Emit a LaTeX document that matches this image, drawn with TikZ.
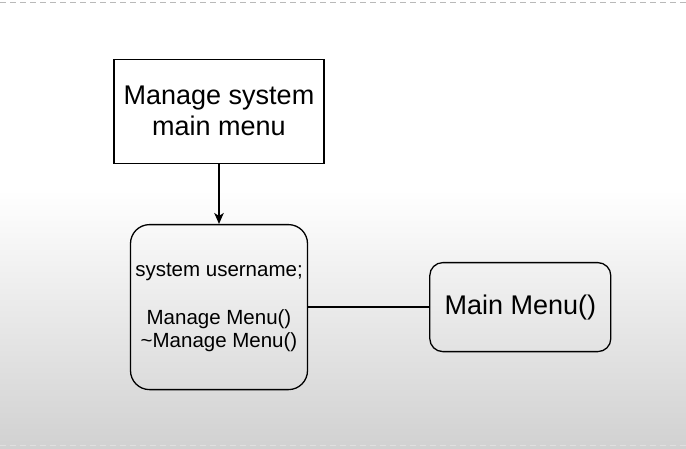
\documentclass[tikz,border=0pt]{standalone}
\usepackage{fontspec}
\setmainfont{Liberation Sans}
\usetikzlibrary{positioning,arrows.meta}

\begin{document}
\begin{tikzpicture}[x=1pt, y=-1pt, ->, >={Stealth[length=11pt, width=9.5pt, inset=3pt]}, line width=1.3pt,
    bigtext/.style={font=\fontsize{27}{31}\selectfont, align=center},
    smalltext/.style={font=\fontsize{20.5}{22.5}\selectfont, align=center},
    plainbox/.style={draw, inner sep=0pt, bigtext},
    classbox/.style={draw, inner sep=0pt, rounded corners=19pt}]

  % background
  \useasboundingbox (0,0) rectangle (686,448);
  \fill[white] (0,0) rectangle (686,190);
  \shade[top color=white, bottom color=black!18, draw=none] (0,190) rectangle (686,448);
  \draw[-, gray!55, line width=0.8pt, dash pattern=on 6pt off 4pt] (0,2.5) -- (686,2.5);
  \draw[-, gray!25, line width=0.8pt, dash pattern=on 6pt off 4pt] (0,445.5) -- (686,445.5);

  % boxes
  \node[plainbox, minimum width=210pt, minimum height=104pt] (manage) at (219,111.3)
    {Manage system\\main menu};
  \node[classbox, smalltext, minimum width=177pt, minimum height=165pt,
        below=60pt of manage] (menuclass)
    {system username;\\[26pt]Manage Menu()\\\textasciitilde Manage Menu()};
  \node[classbox, bigtext, rounded corners=13pt, minimum width=181pt, minimum height=89pt,
        right=121pt of menuclass] (mainmenu) {Main Menu()};

  % connectors
  \path
    (manage) edge (menuclass)
    (menuclass) edge[-] (mainmenu);

\end{tikzpicture}
\end{document}
